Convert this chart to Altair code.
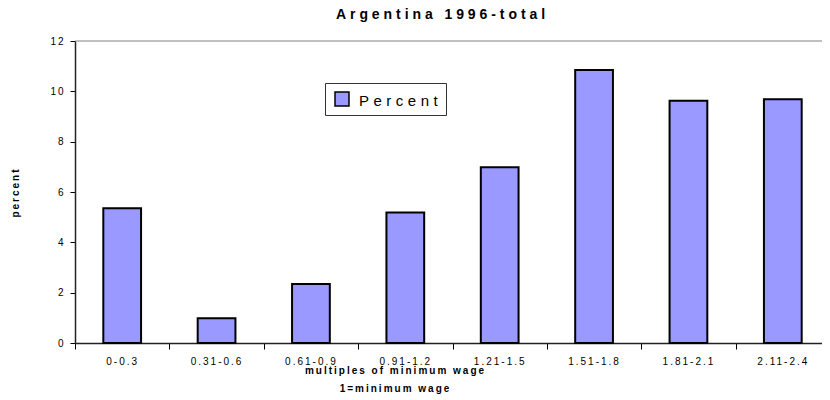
import json
import altair as alt
import pandas as pd

# ---- data ----
categories = ["0-0.3", "0.31-0.6", "0.61-0.9", "0.91-1.2",
              "1.21-1.5", "1.51-1.8", "1.81-2.1", "2.11-2.4"]
percent = [5.35, 0.98, 2.34, 5.19, 6.98, 10.85, 9.63, 9.69]
series_name = "Percent"
y_ticks = [0, 2, 4, 6, 8, 10, 12]
title_text = "Argentina 1996-total"
x_title = ["multiples of minimum wage", "1=minimum wage"]
y_title = "percent"

n = len(categories)
df = pd.DataFrame({
    "idx": list(range(n)),
    "category": categories,
    "percent": percent,
    "series": [series_name] * n,
})

FONT = "Liberation Sans"
x_vals = [i / 2 for i in range(2 * n + 1)]
label_expr = "datum.value % 1 == 0 ? '' : " + json.dumps(categories) + "[floor(datum.value)]"

bars = alt.Chart(df).transform_calculate(
    x0="datum.idx + 0.3", x1="datum.idx + 0.7"
).mark_bar(stroke="black", strokeWidth=2).encode(
    x=alt.X("x0:Q",
            scale=alt.Scale(domain=[0, n], nice=False, zero=False),
            axis=alt.Axis(values=x_vals, labelExpr=label_expr,
                          tickOpacity={"condition": {"test": "datum.value % 1 == 0", "value": 1}, "value": 0},
                          tickSize=6, tickColor="#000", tickWidth=1,
                          labelPadding=7, labelFontSize=10, labelFont=FONT, labelColor="#000",
                          labelOverlap=False, labelFlush=False, labelBound=False,
                          domainColor="#222", domainWidth=1.5, grid=False,
                          title=x_title, titleFont=FONT, titleFontSize=10, titleFontWeight="bold",
                          titleColor="#000", titleX=320, titleY=30, titleAlign="center",
                          titleBaseline="alphabetic", titleLineHeight=18)),
    x2="x1:Q",
    y=alt.Y("percent:Q",
            scale=alt.Scale(domain=[0, 12], nice=False),
            axis=alt.Axis(values=y_ticks, tickSize=5, tickColor="#000", tickWidth=1,
                          labelPadding=5, labelFontSize=10, labelFont=FONT, labelColor="#000",
                          domainColor="#222", domainWidth=1.5, grid=False,
                          title=y_title, titleFont=FONT, titleFontSize=10, titleFontWeight="bold",
                          titleColor="#000", titleX=-60, titleY=151, titleAngle=270,
                          titleAlign="center", titleBaseline="middle")),
    y2=alt.datum(0),
    color=alt.Color("series:N", scale=alt.Scale(range=["#9999FF"]),
                    legend=alt.Legend(title=None, orient="none", legendX=250, legendY=42,
                                      strokeColor="#333", fillColor="white", padding=4,
                                      symbolType="square", symbolSize=196,
                                      symbolStrokeColor="#000", symbolStrokeWidth=1.5,
                                      symbolOffset=1, labelOffset=5,
                                      labelFont=FONT, labelFontSize=24, labelColor="#000")),
)

top_rule = alt.Chart(pd.DataFrame({"v": [0]})).mark_rule(
    color="#808080", strokeWidth=1
).encode(y=alt.datum(12))

chart = alt.layer(bars, top_rule).properties(
    width=755, height=302,
    padding={"left": 67, "top": 33, "right": 0, "bottom": 56},
    autosize=alt.AutoSizeParams(type="none"),
    title=alt.Title(title_text, font=FONT, fontSize=14, fontWeight="bold",
                    color="#000", offset=14, dx=-10),
).configure_view(stroke=None)

CSS = """
html, body { overflow: hidden; }
.vega-embed svg { flex-shrink: 0; }
.role-title-text text { letter-spacing: 0.28em; }
.role-axis-label text { letter-spacing: 0.2em; }
.role-axis-title text { letter-spacing: 0.2em; }
.role-legend-label text { letter-spacing: 0.3em; font-size: 15px !important; }
"""

save_kwargs = {}
try:
    import jinja2
    from altair.utils import html as _alt_html
    _base_t = _alt_html.TEMPLATES["standard"]

    class StyledTemplate(jinja2.Template):
        def render(self, *args, **kwargs):
            page = _base_t.render(*args, **kwargs)
            style = "<style>" + CSS + "</style>\n"
            if "</head>" in page:
                return page.replace("</head>", style + "</head>", 1)
            return style + page

    save_kwargs["template"] = StyledTemplate("{{ spec }}")
except Exception:
    save_kwargs = {}

chart.save("out.html", embed_options={"renderer": "svg", "actions": False}, **save_kwargs)
